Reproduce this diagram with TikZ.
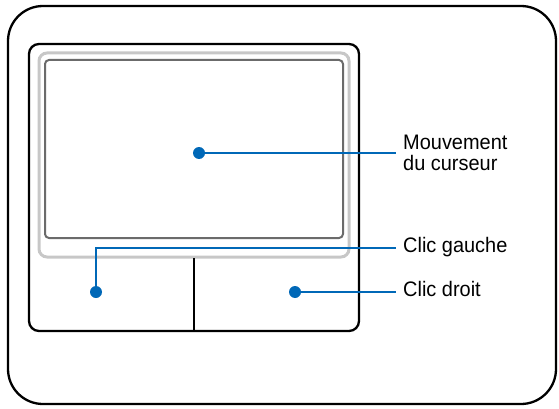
\documentclass[tikz,border=0pt]{standalone}
\usepackage{fontspec}
\setmainfont[FakeStretch=0.95]{Liberation Sans}
\definecolor{padblue}{RGB}{0,104,183}
\newcommand{\bluedot}[2]{\node[dot] (#1) at (#2) {}}
\newcommand{\legende}[3]{\node[legend,oneline] (#1) at (#2) {#3}}

\begin{document}
\begin{tikzpicture}[x=1pt,y=-1pt,
	epais/.style={line width=2.3pt},
	dot/.style={circle,fill=padblue,inner sep=0pt,minimum size=12pt},
	legend/.style={anchor=west,inner xsep=7.5pt,inner ysep=0pt,font=\fontsize{21}{21}\selectfont},
	oneline/.style={text height=0.8em,text depth=0pt},
	pointer/.style={draw=padblue,line width=2pt}]
	\useasboundingbox (0,0) rectangle (559,409);
%Frame
	\draw[epais,rounded corners=35pt] (8,6) rectangle (556,404);
%Touchpad
	\draw[epais,rounded corners=10pt] (29,44) rectangle (359,331);
	\draw[line width=3pt,black!22,rounded corners=8pt] (39,53) rectangle (349,257);
	\draw[line width=2pt,black!58,rounded corners=4pt] (45,60) rectangle (343,238);
	\draw[line width=1.3pt] (194,258) -- (194,331);
%Dots
	\bluedot{cdot}{199,153};
	\bluedot{gdot}{96,292};
	\bluedot{ddot}{295,292};
%Legends
	\node[legend,align=left] (curseur) at (395.5,153) {Mouvement\\du curseur};
	\legende{gauche}{395.5,248}{Clic gauche};
	\legende{droit}{395.5,292}{Clic droit};
%Pointers
	\draw[pointer] (cdot) -- (curseur.west);
	\draw[pointer] (gdot) |- (gauche.west);
	\draw[pointer] (ddot) -- (droit.west);
\end{tikzpicture}
\end{document}
